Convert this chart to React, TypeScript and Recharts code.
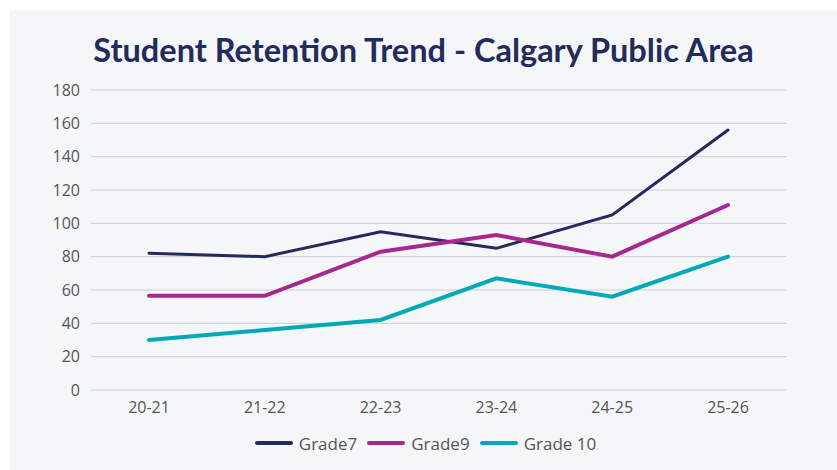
import React from 'react';
import { LineChart, Line, XAxis, YAxis, CartesianGrid, Legend } from 'recharts';

const categories = ['20-21', '21-22', '22-23', '23-24', '24-25', '25-26'];
const grade7 = [82, 80, 95, 85, 105, 156];
const grade9 = [56.5, 56.5, 83, 93, 80, 111];
const grade10 = [30, 36, 42, 67, 56, 80];
const yTicks = [0, 20, 40, 60, 80, 100, 120, 140, 160, 180];

const seriesNames = ['Grade7', 'Grade9', 'Grade 10'];
const seriesColors = ['#222a5e', '#a8278f', '#00a9b8'];
const seriesWidths = [3, 4, 4];

const data = categories.map((c, i) => ({
  name: c,
  g7: grade7[i],
  g9: grade9[i],
  g10: grade10[i],
}));

const FONT = "'Open Sans', 'DejaVu Sans', sans-serif";

const LegendContent = (props: any) => {
  const payload = [...(props.payload || [])].sort(
    (a: any, b: any) => seriesNames.indexOf(a.value) - seriesNames.indexOf(b.value)
  );
  return (
    <div
      style={{
        display: 'flex',
        justifyContent: 'center',
        alignItems: 'center',
        height: 40,
        fontFamily: FONT,
        fontSize: 17,
        fontWeight: 500,
        color: '#555555',
        paddingLeft: 4,
      }}
    >
      {payload.map((p: any, i: number) => (
        <div
          key={i}
          style={{ display: 'flex', alignItems: 'center', marginRight: i < payload.length - 1 ? 10 : 0 }}
        >
          <div
            style={{
              width: 38,
              height: 4,
              borderRadius: 2,
              background: p.color,
              marginRight: 6,
            }}
          />
          <span>{p.value}</span>
        </div>
      ))}
    </div>
  );
};

export default function App() {
  return (
    <div style={{ position: 'absolute', left: 0, top: 0, width: 837, height: 470, background: '#ffffff' }}>
      <div
        style={{
          position: 'absolute',
          left: 10,
          top: 10,
          width: 827,
          height: 460,
          background: '#f5f6f8',
        }}
      >
        <div
          style={{
            position: 'absolute',
            left: 0,
            top: 20,
            width: 827,
            textAlign: 'center',
            fontFamily: "Lato, 'Open Sans', sans-serif",
            fontWeight: 700,
            fontSize: 32.5,
            color: '#232b5c',
            lineHeight: '40px',
          }}
        >
          Student Retention Trend - Calgary Public Area
        </div>
        <LineChart
          width={827}
          height={460}
          data={data}
          margin={{ top: 80, right: 51, left: 20, bottom: 7 }}
        >
          <CartesianGrid vertical={false} stroke="#cccdda" strokeWidth={1} />
          <XAxis
            dataKey="name"
            axisLine={false}
            tickLine={false}
            height={33}
            tickMargin={6}
            padding={{ left: 58, right: 58 }}
            tick={{ fill: '#555555', fontSize: 16, fontFamily: FONT, fontWeight: 500 }}
          />
          <YAxis
            domain={[0, 180]}
            ticks={yTicks}
            axisLine={false}
            tickLine={false}
            width={61}
            tickMargin={5}
            tick={{ fill: '#555555', fontSize: 16, fontFamily: FONT, fontWeight: 500 }}
          />
          <Legend
            verticalAlign="bottom"
            wrapperStyle={{ left: 0, width: 827 }}
            content={<LegendContent />}
          />
          <Line
            type="linear"
            dataKey="g7"
            name={seriesNames[0]}
            stroke={seriesColors[0]}
            strokeWidth={seriesWidths[0]}
            strokeLinecap="round"
            dot={false}
            activeDot={false}
            isAnimationActive={false}
          />
          <Line
            type="linear"
            dataKey="g9"
            name={seriesNames[1]}
            stroke={seriesColors[1]}
            strokeWidth={seriesWidths[1]}
            strokeLinecap="round"
            dot={false}
            activeDot={false}
            isAnimationActive={false}
          />
          <Line
            type="linear"
            dataKey="g10"
            name={seriesNames[2]}
            stroke={seriesColors[2]}
            strokeWidth={seriesWidths[2]}
            strokeLinecap="round"
            dot={false}
            activeDot={false}
            isAnimationActive={false}
          />
        </LineChart>
      </div>
    </div>
  );
}
